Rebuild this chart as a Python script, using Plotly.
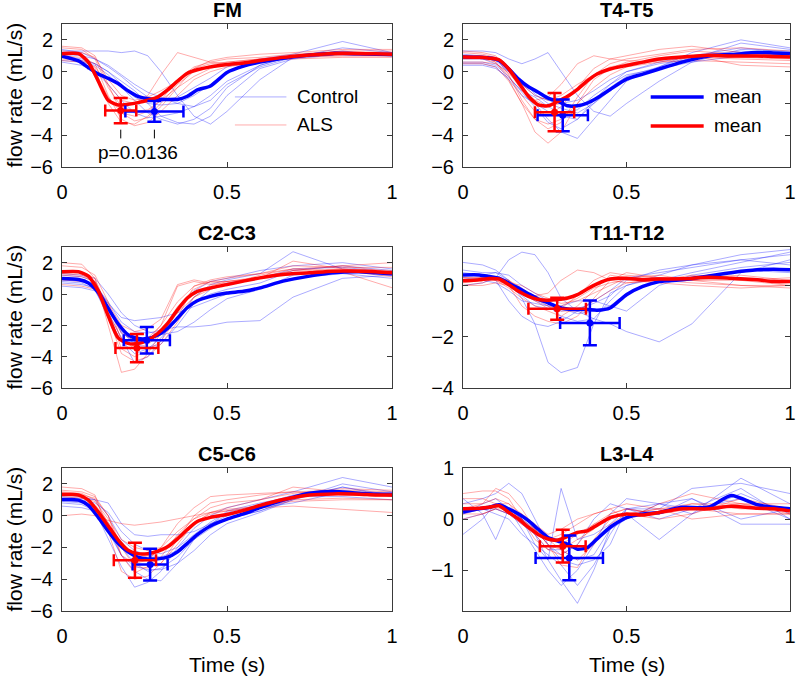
import plotly.graph_objects as go

# ---------------- data ----------------
PANELS = ["FM", "T4-T5", "C2-C3", "T11-T12", "C5-C6", "L3-L4"]

T_MEAN = [0, 0.05, 0.08, 0.11, 0.14, 0.17, 0.2, 0.23, 0.26, 0.29, 0.32, 0.35,
          0.38, 0.41, 0.45, 0.5, 0.55, 0.6, 0.67, 0.75, 0.82, 0.9, 0.95, 1.0]
T_IND = [0, 0.06, 0.1, 0.14, 0.18, 0.22, 0.26, 0.3, 0.35, 0.4, 0.45, 0.5, 0.6, 0.7, 0.85, 1.0]

# mean curves (flow rate, mL/s)
FM_CTRL_MEAN = [0.98, 0.68, 0.25, -0.15, -0.42, -0.75, -1.2, -1.55, -1.7, -1.75, -1.75, -1.75,
                -1.55, -1.15, -0.9, -0.05, 0.35, 0.6, 0.85, 1.05, 1.15, 1.12, 1.1, 1.08]
FM_ALS_MEAN = [1.13, 1.13, 0.6, -0.6, -1.8, -2.1, -2.05, -1.95, -1.8, -1.6, -1.15, -0.6,
               -0.1, 0.12, 0.3, 0.45, 0.55, 0.7, 0.9, 1.05, 1.15, 1.15, 1.12, 1.1]
T45_CTRL_MEAN = [0.92, 0.9, 0.86, 0.71, 0.17, -0.47, -0.95, -1.29, -1.66, -1.87, -2.15, -2.15,
                 -1.98, -1.66, -1.12, -0.47, -0.15, 0.17, 0.6, 0.99, 1.08, 1.2, 1.18, 1.15]
T45_ALS_MEAN = [0.92, 0.9, 0.85, 0.75, 0.17, -0.69, -1.55, -2.09, -2.15, -1.87, -1.55, -1.12,
                -0.58, -0.15, 0.17, 0.39, 0.6, 0.8, 0.92, 1.03, 0.99, 0.99, 0.95, 0.92]
C23_CTRL_MEAN = [0.99, 0.92, 0.71, 0.1, -0.9, -1.9, -2.6, -2.84, -2.84, -2.62, -2.19, -1.55,
                 -0.86, -0.43, -0.15, 0.06, 0.17, 0.39, 0.82, 1.14, 1.35, 1.42, 1.35, 1.29]
C23_ALS_MEAN = [1.42, 1.42, 1.14, 0.2, -1.4, -2.8, -3.15, -3.16, -2.95, -2.52, -1.87, -1.01,
                -0.26, 0.17, 0.39, 0.6, 0.82, 1.03, 1.25, 1.35, 1.46, 1.46, 1.42, 1.35]
T1112_CTRL_MEAN = [0.41, 0.41, 0.35, 0.28, 0.09, -0.1, -0.32, -0.53, -0.68, -0.84, -0.92, -0.94,
                   -0.94, -0.97, -0.88, -0.36, -0.04, 0.15, 0.22, 0.37, 0.5, 0.61, 0.63, 0.61]
T1112_ALS_MEAN = [0.18, 0.22, 0.27, 0.25, 0.03, -0.23, -0.43, -0.55, -0.58, -0.55, -0.49, -0.36,
                  -0.14, 0.06, 0.25, 0.28, 0.22, 0.25, 0.26, 0.32, 0.28, 0.22, 0.15, 0.15]
C56_CTRL_MEAN = [1.02, 0.98, 0.65, -0.11, -0.98, -1.74, -2.28, -2.61, -2.72, -2.72, -2.61, -2.28,
                 -1.74, -1.2, -0.65, -0.22, 0.11, 0.5, 0.98, 1.41, 1.52, 1.41, 1.35, 1.35]
C56_ALS_MEAN = [1.35, 1.3, 0.98, 0.22, -0.65, -1.52, -2.17, -2.39, -2.39, -2.24, -1.96, -1.46,
                -0.87, -0.37, -0.11, 0.07, 0.33, 0.65, 1.02, 1.3, 1.37, 1.35, 1.3, 1.3]
L34_CTRL_MEAN = [0.14, 0.2, 0.23, 0.28, 0.2, 0.1, -0.03, -0.2, -0.36, -0.43, -0.49, -0.59,
                 -0.56, -0.39, -0.16, 0.03, 0.1, 0.13, 0.23, 0.23, 0.46, 0.28, 0.23, 0.2]
L34_ALS_MEAN = [0.2, 0.21, 0.23, 0.26, 0.13, 0.0, -0.16, -0.3, -0.39, -0.41, -0.34, -0.26,
                -0.23, -0.12, 0.03, 0.1, 0.08, 0.13, 0.2, 0.2, 0.25, 0.21, 0.2, 0.16]

# individual subject traces (sampled at T_IND)
FM_CTRL_IND = [
    [1.0, 0.8, 0.5, 0.0, -0.8, -1.6, -2.0, -2.1, -2.0, -1.5, -0.8, 0.0, 0.6, 0.9, 1.2, 1.1],
    [1.3, 1.3, 1.3, 1.3, 1.2, 1.3, 1.0, 0.0, -1.5, -2.8, -3.3, -2.5, -0.5, 0.9, 1.5, 1.2],
    [0.6, 0.4, 0.0, -0.8, -1.8, -2.6, -2.9, -2.8, -2.6, -2.2, -1.5, -0.6, 0.4, 1.0, 1.3, 1.0],
    [0.9, 0.7, 0.5, 0.0, -0.6, -1.2, -2.0, -2.8, -3.2, -3.3, -2.8, -1.5, 0.2, 0.8, 1.1, 1.0],
    [1.4, 1.2, 0.8, 0.3, -0.3, -1.0, -1.6, -1.8, -1.6, -1.0, -0.4, 0.3, 0.8, 1.1, 1.9, 1.2],
    [0.7, 0.6, 0.4, -0.2, -1.0, -1.8, -2.6, -3.0, -3.3, -3.0, -2.3, -1.0, 0.4, 1.0, 1.2, 1.1],
    [1.1, 1.0, 0.8, 0.4, -0.2, -0.8, -1.3, -1.6, -2.0, -2.2, -1.8, -0.8, 0.3, 0.9, 1.1, 1.0]]
FM_ALS_IND = [
    [1.2, 1.1, 0.2, -2.0, -3.2, -3.3, -2.8, -2.0, -0.8, 0.0, 0.4, 0.6, 0.8, 1.0, 1.2, 1.2],
    [1.5, 1.4, 0.8, -1.0, -2.2, -2.5, -2.4, -1.8, -0.5, 0.3, 0.6, 0.8, 0.9, 1.1, 1.3, 1.3],
    [0.8, 0.7, 0.3, -0.8, -1.8, -2.0, -1.5, -0.2, 1.2, 0.9, 0.6, 0.5, 0.7, 1.0, 1.0, 1.0],
    [1.0, 0.9, 0.5, -1.5, -3.0, -3.4, -3.2, -2.5, -1.5, -0.5, 0.0, 0.3, 0.6, 0.9, 1.1, 1.1],
    [1.3, 1.2, 0.9, -0.5, -1.5, -1.8, -1.6, -1.2, -0.6, 0.2, 0.5, 0.6, 0.8, 0.9, 1.0, 1.0],
    [1.6, 1.5, 1.0, -0.8, -2.6, -3.1, -2.9, -2.2, -1.0, 0.2, 0.7, 0.9, 1.1, 1.2, 1.4, 1.4],
    [0.7, 0.6, 0.0, -1.6, -2.6, -2.8, -2.5, -1.8, -1.0, -0.3, 0.2, 0.5, 0.7, 0.8, 0.9, 0.9]]
T45_CTRL_IND = [
    [0.5, 0.5, 0.3, -0.5, -1.5, -2.0, -2.5, -2.8, -3.0, -2.0, -1.0, -0.3, 0.3, 1.0, 1.5, 1.2],
    [1.3, 1.3, 1.2, 0.8, 0.5, 0.8, 1.2, 0.0, -1.5, -2.5, -2.8, -2.0, -0.6, 0.6, 1.4, 1.3],
    [0.8, 0.8, 0.5, 0.0, -1.0, -2.0, -3.0, -3.8, -4.2, -3.0, -1.8, -0.6, 0.3, 1.2, 2.0, 1.5],
    [1.0, 0.9, 0.7, 0.0, -0.8, -1.5, -1.8, -2.0, -1.8, -1.2, -0.5, 0.0, 0.6, 1.0, 1.3, 1.0],
    [0.4, 0.4, 0.2, -0.4, -1.2, -1.6, -2.2, -2.6, -2.4, -1.5, -0.8, -0.2, 0.2, 0.6, 1.0, 0.9],
    [0.6, 0.6, 0.4, -0.3, -1.3, -2.2, -3.2, -3.6, -3.0, -1.8, -0.8, 0.0, 0.5, 0.8, 1.8, 1.4],
    [1.1, 1.0, 0.9, 0.3, -0.6, -1.4, -2.0, -2.3, -2.6, -2.0, -1.2, -0.4, 0.2, 0.9, 1.2, 1.1]]
T45_ALS_IND = [
    [1.0, 1.0, 0.6, -0.5, -2.0, -3.8, -4.5, -3.8, -2.0, -0.5, 0.2, 0.6, 1.0, 1.3, 1.1, 1.0],
    [0.8, 0.8, 0.6, -0.3, -1.5, -2.5, -2.8, -2.2, -1.0, 0.2, 0.8, 1.0, 1.4, 1.6, 1.2, 1.0],
    [1.3, 1.2, 1.0, 0.0, -1.2, -1.8, -1.6, -0.8, 0.5, 1.0, 0.8, 0.7, 0.6, 0.7, 0.6, 0.5],
    [0.5, 0.5, 0.3, -0.6, -2.0, -3.0, -3.3, -3.0, -2.0, -1.0, -0.2, 0.3, 0.6, 0.9, 0.9, 0.8],
    [1.0, 0.9, 0.8, 0.2, -0.8, -1.5, -1.8, -1.5, -0.8, -0.2, 0.3, 0.5, 0.8, 1.0, 0.4, 0.3],
    [1.2, 1.1, 0.9, -0.2, -1.8, -3.0, -3.6, -3.2, -1.6, -0.2, 0.5, 0.8, 1.1, 1.4, 1.5, 1.3],
    [0.6, 0.6, 0.5, -0.1, -1.0, -1.8, -2.2, -2.0, -1.2, -0.3, 0.2, 0.4, 0.7, 0.9, 0.8, 0.7]]
C23_CTRL_IND = [
    [0.8, 0.7, 0.3, -1.5, -3.0, -3.8, -3.5, -2.8, -1.5, -0.5, 0.0, 0.3, 0.7, 1.5, 1.8, 1.5],
    [1.0, 0.9, 0.6, -0.5, -1.8, -2.4, -2.5, -2.3, -2.1, -2.1, -2.0, -1.8, -1.7, -0.2, 1.0, 1.2],
    [1.2, 1.1, 0.8, -0.8, -2.5, -3.0, -3.0, -2.6, -1.5, -0.2, 0.6, 0.9, 1.3, 2.7, 1.6, 1.3],
    [0.5, 0.4, 0.2, -1.2, -2.8, -4.4, -4.0, -3.0, -1.0, 0.2, 0.8, 1.0, 1.5, 1.8, 2.0, 1.6],
    [0.9, 0.8, 0.5, -0.6, -1.5, -1.7, -1.6, -1.5, -1.2, -0.8, -0.4, 0.0, 0.4, 1.0, 1.3, 1.0],
    [0.7, 0.6, 0.4, -0.8, -2.4, -3.2, -3.4, -3.2, -2.0, -0.6, 0.3, 0.7, 1.0, 1.6, 1.7, 1.4],
    [1.3, 1.2, 1.0, 0.0, -1.2, -2.0, -2.4, -2.6, -2.4, -1.8, -1.0, -0.3, 0.3, 1.2, 1.5, 1.2]]
C23_ALS_IND = [
    [2.0, 1.9, 1.0, -2.0, -5.0, -4.8, -3.8, -2.5, -0.8, 0.3, 0.8, 1.0, 1.3, 1.8, 1.7, 1.7],
    [1.5, 1.4, 1.0, -1.0, -3.5, -4.0, -3.6, -3.0, -1.5, 0.5, 0.8, 0.8, 1.0, 2.1, 1.6, 1.5],
    [1.8, 1.7, 1.2, -0.5, -3.0, -3.3, -3.0, -2.0, 0.5, 0.8, 0.6, 0.7, 1.0, 1.5, 1.8, 2.0],
    [0.6, 0.5, 0.3, -1.2, -2.8, -3.5, -3.2, -2.6, -1.2, -0.2, 0.3, 0.6, 1.2, 1.6, 1.4, 0.4],
    [1.2, 1.1, 0.8, -0.8, -2.5, -3.0, -2.8, -2.0, -0.5, 0.5, 0.9, 1.1, 1.3, 1.6, 1.8, 1.4],
    [1.3, 1.2, 0.8, -1.5, -3.8, -4.3, -4.0, -3.2, -1.8, -0.2, 0.5, 0.8, 1.1, 1.5, 1.6, 1.4],
    [0.9, 0.8, 0.6, -0.6, -2.0, -2.4, -2.2, -1.6, 0.6, 0.9, 0.7, 0.8, 1.0, 1.3, 1.5, 1.1]]
T1112_CTRL_IND = [
    [0.9, 0.8, 0.6, 0.2, -0.5, -1.5, -3.0, -3.4, -3.2, -1.5, -0.3, 0.0, 0.4, 0.8, 1.2, 1.4],
    [0.0, 0.1, 0.3, 1.0, 1.3, 1.2, 0.5, -0.5, -1.0, -1.3, -1.5, -1.8, -2.2, -1.5, 0.5, 1.0],
    [0.5, 0.4, 0.2, -0.6, -1.2, -1.5, -1.6, -1.4, -1.0, -0.6, -0.2, 0.3, 0.5, 0.7, 1.0, 1.2],
    [0.2, 0.3, 0.3, 0.0, -0.4, -0.8, -0.9, -1.0, -0.9, -0.7, -0.4, 0.2, 0.6, 0.8, 1.0, 0.8],
    [0.3, 0.2, 0.1, -0.2, -0.6, -0.7, -0.8, -1.2, -1.4, -1.3, -0.6, 0.0, 0.3, 0.2, 0.6, 0.5],
    [0.4, 0.4, 0.5, 0.4, 0.0, -0.3, -0.6, -0.9, -1.1, -1.0, -0.8, -0.3, 0.2, 0.5, 0.9, 1.3],
    [0.6, 0.5, 0.5, 0.2, -0.3, -0.6, -0.8, -0.8, -0.6, -0.6, -0.8, -1.0, 0.0, 0.4, 0.7, 0.9]]
T1112_ALS_IND = [
    [0.2, 0.2, 0.2, -0.1, -0.5, -0.8, -1.0, -1.2, -0.8, -0.2, 0.4, 0.3, 0.3, 0.2, 0.2, 0.0],
    [0.0, 0.1, 0.3, 0.0, -0.8, -1.2, -1.4, -1.5, -1.2, -0.5, 0.2, 0.5, 0.3, 0.2, 0.0, 0.0],
    [0.3, 0.3, 0.3, 0.2, -0.2, -0.4, -0.3, 0.2, 0.6, 0.5, 0.2, 0.1, 0.2, 0.4, 0.2, 0.3],
    [0.1, 0.2, 0.2, 0.0, -0.3, -0.6, -0.9, -0.8, -0.5, -0.1, 0.1, 0.2, 0.1, 0.0, -0.1, 0.0],
    [0.2, 0.2, 0.3, 0.1, 0.0, -0.3, -0.5, -0.7, -0.6, -0.3, 0.0, 0.3, 0.4, 0.2, 0.3, 0.2],
    [0.3, 0.3, 0.3, 0.2, -0.1, -0.5, -0.8, -0.9, -0.4, 0.2, 0.5, 0.4, 0.3, 0.3, 0.4, 0.2],
    [0.0, 0.0, 0.1, 0.0, -0.2, -0.4, -0.6, -1.0, -1.0, -0.6, -0.2, 0.1, 0.2, 0.1, 0.0, -0.1]]
C56_CTRL_IND = [
    [0.6, 0.5, 0.3, -1.5, -3.2, -4.5, -4.2, -3.5, -2.0, -0.8, 0.0, 0.5, 1.0, 1.5, 2.4, 1.8],
    [1.0, 0.9, 0.5, -0.8, -2.5, -3.2, -3.4, -3.4, -3.0, -2.2, -1.2, -0.5, 0.2, 1.0, 2.0, 1.5],
    [1.2, 1.1, 1.0, 0.8, -0.5, -1.2, -1.3, -1.2, -1.2, -1.0, -0.5, 0.0, 0.5, 0.8, 1.5, 1.4],
    [0.8, 0.7, 0.3, -1.0, -2.5, -3.5, -4.0, -4.1, -3.0, -1.5, -0.5, -0.2, 0.3, 1.0, 1.8, 1.2],
    [1.3, 1.2, 1.0, 0.0, -1.5, -2.2, -2.5, -2.6, -2.2, -1.4, -0.6, 0.3, 0.8, 1.2, 1.2, 1.0],
    [0.9, 0.8, 0.6, -0.5, -2.0, -3.0, -3.5, -3.3, -2.6, -1.5, -0.8, -0.2, 0.3, 1.1, 1.8, 1.3],
    [1.1, 1.0, 0.8, 0.2, -1.0, -1.8, -2.2, -2.4, -2.0, -1.2, -0.4, 0.2, 0.7, 1.3, 1.6, 1.2]]
C56_ALS_IND = [
    [1.8, 1.7, 1.3, -1.0, -3.5, -4.0, -3.8, -3.0, -1.5, 0.0, 0.8, 1.0, 1.3, 1.5, 1.3, 1.2],
    [0.0, 0.1, 0.0, -0.3, -0.5, -0.6, -0.5, -0.4, -0.2, 0.0, 0.2, 0.4, 0.6, 0.9, 1.0, 1.0],
    [1.5, 1.4, 1.0, -0.5, -2.5, -3.0, -2.8, -2.0, -0.5, 0.5, 1.2, 1.3, 1.4, 1.5, 1.6, 1.5],
    [1.2, 1.1, 0.9, -0.2, -1.5, -2.0, -2.2, -2.0, -1.0, -0.2, 0.2, 0.3, 0.5, 0.6, 0.4, 0.2],
    [1.4, 1.3, 1.1, 0.0, -2.0, -3.2, -3.3, -3.0, -1.8, -0.5, 0.2, 0.5, 1.0, 1.8, 1.5, 1.4],
    [1.6, 1.5, 1.2, 0.0, -2.5, -3.6, -3.2, -2.6, -1.2, -0.2, 0.5, 0.8, 1.0, 1.4, 1.7, 1.6],
    [1.0, 0.9, 0.7, -0.4, -1.8, -2.4, -2.6, -2.2, -1.3, -0.4, 0.1, 0.3, 0.6, 1.0, 1.1, 1.0]]
L34_CTRL_IND = [
    [0.4, 0.1, -0.4, 0.2, 0.0, -0.5, -0.8, 0.6, -0.4, -0.3, -0.1, 0.2, 0.0, 0.2, 0.6, 0.0],
    [0.1, 0.3, 0.4, 0.2, 0.0, -0.3, -0.8, -1.2, -1.65, -1.0, -0.2, 0.1, -0.4, 0.1, 0.5, 0.1],
    [0.3, 0.4, 0.5, 0.7, 0.5, 0.0, -0.5, -0.8, -0.9, -0.8, -0.5, 0.2, 0.3, 0.1, 0.8, 0.3],
    [-0.3, 0.0, 0.3, 0.2, -0.2, -0.6, -1.0, -1.3, -1.0, -0.5, 0.1, 0.4, 0.3, 0.4, 0.0, 0.2],
    [0.1, 0.2, 0.2, 0.1, 0.0, -0.2, -0.5, -0.7, -0.5, 0.0, 0.3, 0.2, 0.1, 0.4, -0.1, -0.1],
    [0.2, 0.2, 0.1, 0.0, -0.3, -0.5, -0.7, -0.9, -1.3, -0.9, -0.3, 0.2, 0.2, 0.6, 0.7, 0.5],
    [0.0, 0.1, 0.2, 0.1, -0.1, -0.3, -0.6, -0.6, -0.8, -0.7, -0.2, 0.0, 0.3, 0.2, 0.4, 0.0]]
L34_ALS_IND = [
    [0.5, 0.55, 0.55, 0.4, 0.0, -0.3, -0.6, -0.7, -0.5, -0.1, 0.1, 0.2, 0.1, 0.3, 0.3, 0.2],
    [0.2, 0.3, 0.6, 0.5, 0.2, -0.2, -0.5, -0.9, -0.95, -0.4, 0.0, 0.1, 0.2, 0.2, 0.1, 0.1],
    [0.1, 0.1, 0.2, 0.2, 0.1, -0.1, -0.3, -0.2, 0.0, 0.1, 0.2, 0.0, 0.3, 0.5, 0.3, 0.3],
    [0.3, 0.3, 0.4, 0.3, 0.0, -0.4, -0.6, -0.5, -0.3, -0.1, 0.0, 0.1, 0.0, 0.1, 0.4, 0.2],
    [0.0, 0.1, 0.2, 0.1, -0.1, -0.3, -0.4, -0.3, -0.1, 0.1, 0.2, 0.3, 0.2, 0.0, 0.1, 0.1],
    [0.4, 0.4, 0.3, 0.2, 0.0, -0.2, -0.4, -0.6, -0.8, -0.5, -0.1, 0.1, 0.2, 0.3, 0.2, 0.2],
    [0.2, 0.2, 0.3, 0.3, 0.1, -0.2, -0.5, -0.6, -0.4, -0.2, 0.1, 0.2, 0.1, 0.2, 0.3, 0.1]]

# peak (time, flow) with standard deviations, per panel
CTRL_T = [0.28, 0.305, 0.257, 0.388, 0.267, 0.325]
CTRL_T_SD = [0.088, 0.077, 0.07, 0.091, 0.053, 0.103]
CTRL_Y = [-2.5, -2.75, -2.95, -1.46, -3.08, -0.76]
CTRL_Y_SD = [0.65, 1.0, 0.85, 0.87, 1.0, 0.44]
ALS_T = [0.178, 0.28, 0.227, 0.288, 0.221, 0.305]
ALS_T_SD = [0.047, 0.06, 0.065, 0.088, 0.064, 0.07]
ALS_Y = [-2.45, -2.55, -3.45, -0.91, -2.8, -0.53]
ALS_Y_SD = [0.8, 1.2, 0.9, 0.43, 1.1, 0.32]

Y_RANGES = [[-6, 3], [-6, 3], [-6, 3], [-4, 1.5], [-6, 3], [-1.8, 1]]
Y_TICKS = [[-6, -4, -2, 0, 2], [-6, -4, -2, 0, 2], [-6, -4, -2, 0, 2], [-4, -2, 0],
           [-6, -4, -2, 0, 2], [-1, 0, 1]]
X_TICKS = [0, 0.5, 1]
X_TICK_LABELS = ["0", "0.5", "1"]

P_TEXT = "p=0.0136"
P_MARK_Y = [-3.65, -4.2]

CTRL_MEANS = [FM_CTRL_MEAN, T45_CTRL_MEAN, C23_CTRL_MEAN, T1112_CTRL_MEAN, C56_CTRL_MEAN, L34_CTRL_MEAN]
ALS_MEANS = [FM_ALS_MEAN, T45_ALS_MEAN, C23_ALS_MEAN, T1112_ALS_MEAN, C56_ALS_MEAN, L34_ALS_MEAN]
CTRL_INDS = [FM_CTRL_IND, T45_CTRL_IND, C23_CTRL_IND, T1112_CTRL_IND, C56_CTRL_IND, L34_CTRL_IND]
ALS_INDS = [FM_ALS_IND, T45_ALS_IND, C23_ALS_IND, T1112_ALS_IND, C56_ALS_IND, L34_ALS_IND]

# ---------------- styling ----------------
BLUE = "rgb(0,0,255)"
RED = "rgb(255,0,0)"
BLUE_T = "rgba(0,0,255,0.33)"
RED_T = "rgba(255,0,0,0.33)"
FONT = "Liberation Sans, Arial, Helvetica, sans-serif"
W, H = 797, 679

X_DOMS = [(62 / W, 392 / W), (463 / W, 790 / W)]
Y_DOMS = [(1 - 167 / H, 1 - 24 / H), (1 - 388 / H, 1 - 247 / H), (1 - 611 / H, 1 - 468 / H)]

fig = go.Figure()

for i in range(6):
    xa = "x" if i == 0 else f"x{i+1}"
    ya = "y" if i == 0 else f"y{i+1}"
    for tr in CTRL_INDS[i]:
        fig.add_trace(go.Scatter(x=T_IND, y=tr, mode="lines", xaxis=xa, yaxis=ya,
                                 line=dict(color=BLUE_T, width=1), showlegend=False, hoverinfo="skip"))
    for tr in ALS_INDS[i]:
        fig.add_trace(go.Scatter(x=T_IND, y=tr, mode="lines", xaxis=xa, yaxis=ya,
                                 line=dict(color=RED_T, width=1), showlegend=False, hoverinfo="skip"))
    fig.add_trace(go.Scatter(x=T_MEAN, y=CTRL_MEANS[i], mode="lines", xaxis=xa, yaxis=ya,
                             line=dict(color=BLUE, width=3.5, shape="spline", smoothing=0.6),
                             showlegend=False))
    fig.add_trace(go.Scatter(x=T_MEAN, y=ALS_MEANS[i], mode="lines", xaxis=xa, yaxis=ya,
                             line=dict(color=RED, width=3.5, shape="spline", smoothing=0.6),
                             showlegend=False))
    fig.add_trace(go.Scatter(x=[CTRL_T[i]], y=[CTRL_Y[i]], mode="markers", xaxis=xa, yaxis=ya,
                             marker=dict(color=BLUE, size=7),
                             error_x=dict(type="data", array=[CTRL_T_SD[i]], color=BLUE, thickness=2.5, width=6),
                             error_y=dict(type="data", array=[CTRL_Y_SD[i]], color=BLUE, thickness=2.5, width=7),
                             showlegend=False))
    fig.add_trace(go.Scatter(x=[ALS_T[i]], y=[ALS_Y[i]], mode="markers", xaxis=xa, yaxis=ya,
                             marker=dict(color=RED, size=7),
                             error_x=dict(type="data", array=[ALS_T_SD[i]], color=RED, thickness=2.5, width=6),
                             error_y=dict(type="data", array=[ALS_Y_SD[i]], color=RED, thickness=2.5, width=7),
                             showlegend=False))

# p-value marks (FM panel) at the two mean peak times
for tx in [ALS_T[0], CTRL_T[0]]:
    fig.add_trace(go.Scatter(x=[tx, tx], y=P_MARK_Y, mode="lines", xaxis="x", yaxis="y",
                             line=dict(color="black", width=1), showlegend=False, hoverinfo="skip"))

layout = dict(width=W, height=H, margin=dict(l=0, r=0, t=0, b=0),
              paper_bgcolor="white", plot_bgcolor="white",
              font=dict(family=FONT, size=19, color="black"), showlegend=False)
annotations = []
shapes = []
for i in range(6):
    row, col = i // 2, i % 2
    xk = "xaxis" if i == 0 else f"xaxis{i+1}"
    yk = "yaxis" if i == 0 else f"yaxis{i+1}"
    ya = "y" if i == 0 else f"y{i+1}"
    xa = "x" if i == 0 else f"x{i+1}"
    common = dict(showline=True, mirror="allticks", linecolor="#3a3a3a", linewidth=1,
                  ticks="inside", ticklen=5, tickcolor="#3a3a3a", showgrid=False, zeroline=False,
                  automargin=False, tickfont=dict(size=20, color="black", family=FONT))
    layout[xk] = dict(domain=list(X_DOMS[col]), anchor=ya, range=[0, 1], tickvals=X_TICKS,
                      ticktext=X_TICK_LABELS, ticklabelstandoff=7, **common)
    layout[yk] = dict(domain=list(Y_DOMS[row]), anchor=xa, range=Y_RANGES[i], tickvals=Y_TICKS[i],
                      ticklabelstandoff=4, **common)
    xc = (X_DOMS[col][0] + X_DOMS[col][1]) / 2
    annotations.append(dict(text=f"<b>{PANELS[i]}</b>", x=xc, y=Y_DOMS[row][1], xref="paper", yref="paper",
                            xanchor="center", yanchor="middle", yshift=14, showarrow=False,
                            font=dict(size=20, family=FONT, color="black")))
    if col == 0:
        yc = (Y_DOMS[row][0] + Y_DOMS[row][1]) / 2
        annotations.append(dict(text="flow rate (mL/s)", x=14 / W, y=yc, xref="paper", yref="paper",
                                textangle=-90, xanchor="center", yanchor="middle", showarrow=False,
                                font=dict(size=21, family=FONT, color="black")))
    if row == 2:
        annotations.append(dict(text="Time (s)", x=xc, y=1 - 664 / H, xref="paper", yref="paper",
                                xanchor="center", yanchor="middle", showarrow=False,
                                font=dict(size=21, family=FONT, color="black")))

# p-value text
annotations.append(dict(text=P_TEXT, x=(ALS_T[0] + CTRL_T[0]) / 2, y=P_MARK_Y[1], xref="x", yref="y",
                        xanchor="center", yanchor="top", yshift=-2, showarrow=False,
                        font=dict(size=19, family=FONT, color="black")))

# legends
LEG1 = [("Control", BLUE_T, 1, 0.49), ("ALS", RED_T, 1, 0.294)]
for name, colr, wdt, yy in LEG1:
    shapes.append(dict(type="line", xref="x domain", yref="y domain", x0=0.524, x1=0.68, y0=yy, y1=yy,
                       line=dict(color=colr, width=wdt)))
    annotations.append(dict(text=name, xref="x domain", yref="y domain", x=0.706, y=yy,
                            xanchor="left", yanchor="middle", showarrow=False,
                            font=dict(size=19, family=FONT, color="black")))
LEG2 = [("mean", BLUE, 3.5, 0.49), ("mean", RED, 3.5, 0.287)]
for name, colr, wdt, yy in LEG2:
    shapes.append(dict(type="line", xref="x2 domain", yref="y2 domain", x0=0.574, x1=0.736, y0=yy, y1=yy,
                       line=dict(color=colr, width=wdt)))
    annotations.append(dict(text=name, xref="x2 domain", yref="y2 domain", x=0.76, y=yy,
                            xanchor="left", yanchor="middle", showarrow=False,
                            font=dict(size=19, family=FONT, color="black")))

layout["annotations"] = annotations
layout["shapes"] = shapes
fig.update_layout(**layout)
fig.write_html("out.html", config={"displayModeBar": False},
               post_script="document.body.style.margin='0';document.body.style.overflow='hidden';")
